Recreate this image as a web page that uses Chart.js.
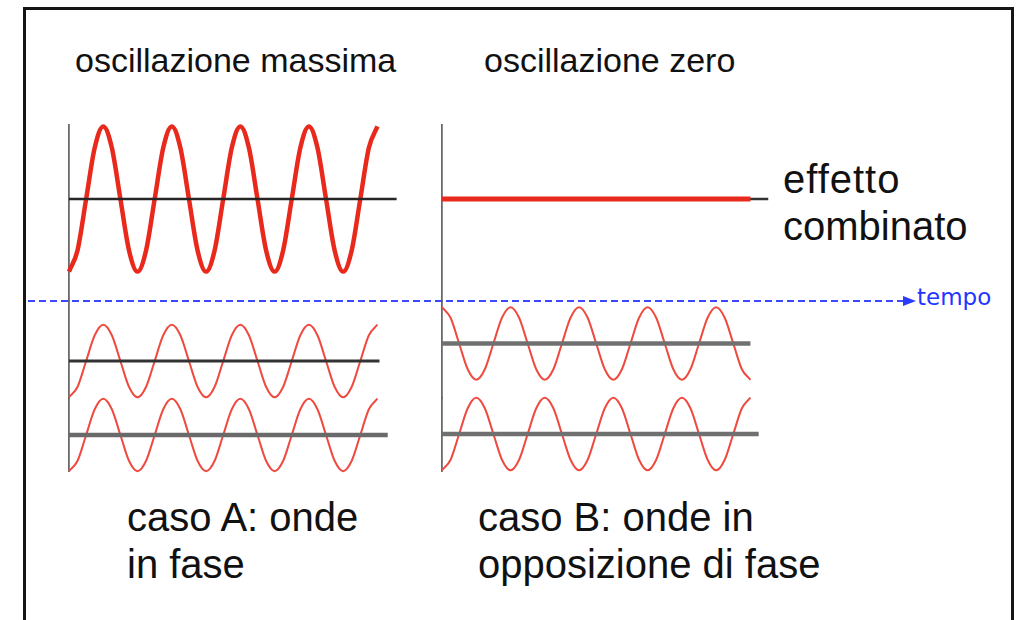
<!DOCTYPE html>
<html>
<head>
<meta charset="utf-8">
<script src="https://cdn.jsdelivr.net/npm/chart.js@4.4.1/dist/chart.umd.min.js"></script>
<style>
    html, body { margin: 0; background: #fff; }
    #stage {
        position: relative; width: 1022px; height: 620px; overflow: hidden;
        font-family: "Liberation Sans", Arial, sans-serif; color: #111;
    }
    .frame {
        position: absolute; left: 23px; top: 7px; width: 991px; height: 700px;
        box-sizing: border-box; border: 3px solid #151515;
    }
    .panel { position: absolute; top: 115px; width: 349px; height: 366px; }
    .txt { position: absolute; line-height: 1; white-space: nowrap; }
    .title { font-size: 34px; top: 43px; }
    .big { font-size: 40px; }
    .time-axis {
        position: absolute; left: 28px; top: 300px; width: 875px; height: 1.8px;
        background: repeating-linear-gradient(to right, #3a48ff 0 7px, transparent 7px 11px);
    }
    .time-arrow {
        position: absolute; left: 903px; top: 296px; width: 0; height: 0;
        border-left: 13px solid #2c3cff; border-top: 5px solid transparent; border-bottom: 5px solid transparent;
    }
    .time-label { font-family: "DejaVu Sans", sans-serif; font-size: 23px; color: #2236ff; left: 917px; top: 286px; }
</style>
</head>
<body>
<div id="stage">
    <div class="frame"></div>

    <div class="txt title" style="left:75px;">oscillazione massima</div>
    <div class="txt title" style="left:484px;">oscillazione zero</div>

    <div class="panel" style="left:59px;"><canvas id="panelA"></canvas></div>
    <div class="panel" style="left:432px;"><canvas id="panelB"></canvas></div>

    <div class="time-axis"></div>
    <div class="time-arrow"></div>
    <div class="txt time-label">tempo</div>

    <div class="txt big" style="left:783px; top:159px; letter-spacing:1px;">effetto</div>
    <div class="txt big" style="left:783px; top:206px;">combinato</div>

    <div class="txt big" style="left:127px; top:497px;">caso A: onde</div>
    <div class="txt big" style="left:127px; top:544px;">in fase</div>
    <div class="txt big" style="left:478px; top:497px;">caso B: onde in</div>
    <div class="txt big" style="left:478px; top:544px;">opposizione di fase</div>
</div>

<script>
// tempo, in periodi (campioni ogni 1/8 di periodo)
const timeSteps = [0, 0.125, 0.25, 0.375, 0.5, 0.625, 0.75, 0.875,
    1, 1.125, 1.25, 1.375, 1.5, 1.625, 1.75, 1.875,
    2, 2.125, 2.25, 2.375, 2.5, 2.625, 2.75, 2.875,
    3, 3.125, 3.25, 3.375, 3.5, 3.625, 3.75, 3.875,
    4, 4.125, 4.25, 4.375, 4.5];

// caso A: onde in fase
const combinedA = [-2, -1.41, 0, 1.41, 2, 1.41, 0, -1.41,
    -2, -1.41, 0, 1.41, 2, 1.41, 0, -1.41,
    -2, -1.41, 0, 1.41, 2, 1.41, 0, -1.41,
    -2, -1.41, 0, 1.41, 2, 1.41, 0, -1.41,
    -2, -1.41, 0, 1.41, 2];
const waveA1 = [-1, -0.71, 0, 0.71, 1, 0.71, 0, -0.71,
    -1, -0.71, 0, 0.71, 1, 0.71, 0, -0.71,
    -1, -0.71, 0, 0.71, 1, 0.71, 0, -0.71,
    -1, -0.71, 0, 0.71, 1, 0.71, 0, -0.71,
    -1, -0.71, 0, 0.71, 1];
const waveA2 = [-1, -0.71, 0, 0.71, 1, 0.71, 0, -0.71,
    -1, -0.71, 0, 0.71, 1, 0.71, 0, -0.71,
    -1, -0.71, 0, 0.71, 1, 0.71, 0, -0.71,
    -1, -0.71, 0, 0.71, 1, 0.71, 0, -0.71,
    -1, -0.71, 0, 0.71, 1];

// caso B: onde in opposizione di fase
const combinedB = [0, 0, 0, 0, 0, 0, 0, 0,
    0, 0, 0, 0, 0, 0, 0, 0,
    0, 0, 0, 0, 0, 0, 0, 0,
    0, 0, 0, 0, 0, 0, 0, 0,
    0, 0, 0, 0, 0];
const waveB1 = [1, 0.71, 0, -0.71, -1, -0.71, 0, 0.71,
    1, 0.71, 0, -0.71, -1, -0.71, 0, 0.71,
    1, 0.71, 0, -0.71, -1, -0.71, 0, 0.71,
    1, 0.71, 0, -0.71, -1, -0.71, 0, 0.71,
    1, 0.71, 0, -0.71, -1];
const waveB2 = [-1, -0.71, 0, 0.71, 1, 0.71, 0, -0.71,
    -1, -0.71, 0, 0.71, 1, 0.71, 0, -0.71,
    -1, -0.71, 0, 0.71, 1, 0.71, 0, -0.71,
    -1, -0.71, 0, 0.71, 1, 0.71, 0, -0.71,
    -1, -0.71, 0, 0.71, 1];

// fine delle linee di riferimento (in periodi): alto, medio, basso
const baselineEndA = [4.78, 4.53, 4.65];
const baselineEndB = [4.76, 4.5, 4.62];

const PX_PER_UNIT = 36.3;
const TIME_MAX = 4.8;

// bande verticali di ciascun pannello (pixel della pagina)
const bandsA = [
    { id: 'yTop', top: 125, bottom: 301, centre: 199 },
    { id: 'yMid', top: 301, bottom: 398, centre: 361 },
    { id: 'yBot', top: 398, bottom: 471, centre: 435 }
];
const bandsB = [
    { id: 'yTop', top: 125, bottom: 301, centre: 199 },
    { id: 'yMid', top: 301, bottom: 398, centre: 343.5 },
    { id: 'yBot', top: 398, bottom: 471, centre: 434 }
];

const RED = '#e8291c';
const LIGHT_RED = '#ef4a40';

function series(xs, ys, axis, color, width) {
    return {
        data: xs.map((x, i) => ({ x: x, y: ys[i] })),
        yAxisID: axis,
        borderColor: color,
        borderWidth: width,
        pointRadius: 0,
        cubicInterpolationMode: 'monotone',
        fill: false,
        clip: false
    };
}

function baseline(end, axis, color, width) {
    return series([0, end], [0, 0], axis, color, width);
}

function buildScales(bands) {
    const scales = {
        x: { type: 'linear', display: false, min: 0, max: TIME_MAX, bounds: 'data' }
    };
    bands.forEach((b, i) => {
        scales[b.id] = {
            type: 'linear',
            position: 'left',
            stack: 'panel',
            stackWeight: b.bottom - b.top,
            weight: bands.length - i,
            min: -(b.bottom - b.centre) / PX_PER_UNIT,
            max: (b.centre - b.top) / PX_PER_UNIT,
            bounds: 'data',
            ticks: { display: false },
            grid: { display: false, drawTicks: false },
            border: { display: true, color: '#6a6a6a', width: 1.8 }
        };
    });
    return scales;
}

function renderPanel(canvasId, bands, datasets) {
    const ctx = document.getElementById(canvasId)?.getContext('2d');
    if (!ctx) return;

    new Chart(ctx, {
        type: 'line',
        data: { datasets: datasets },
        options: {
            responsive: true,
            maintainAspectRatio: false,
            animation: false,
            events: [],
            layout: { padding: 10 },
            plugins: { legend: { display: false }, tooltip: { enabled: false } },
            scales: buildScales(bands)
        }
    });
}

// i primi dataset vengono disegnati sopra
renderPanel('panelA', bandsA, [
    baseline(baselineEndA[0], 'yTop', '#262626', 2.5),
    baseline(baselineEndA[1], 'yMid', '#333333', 3),
    baseline(baselineEndA[2], 'yBot', '#6a6a6a', 4.5),
    series(timeSteps, combinedA, 'yTop', RED, 4.5),
    series(timeSteps, waveA1, 'yMid', LIGHT_RED, 2),
    series(timeSteps, waveA2, 'yBot', LIGHT_RED, 2)
]);

renderPanel('panelB', bandsB, [
    series(timeSteps, combinedB, 'yTop', RED, 5),
    baseline(baselineEndB[0], 'yTop', '#333333', 2.5),
    baseline(baselineEndB[1], 'yMid', '#707070', 4.5),
    baseline(baselineEndB[2], 'yBot', '#707070', 4.5),
    series(timeSteps, waveB1, 'yMid', LIGHT_RED, 2),
    series(timeSteps, waveB2, 'yBot', LIGHT_RED, 2)
]);
</script>
</body>
</html>
